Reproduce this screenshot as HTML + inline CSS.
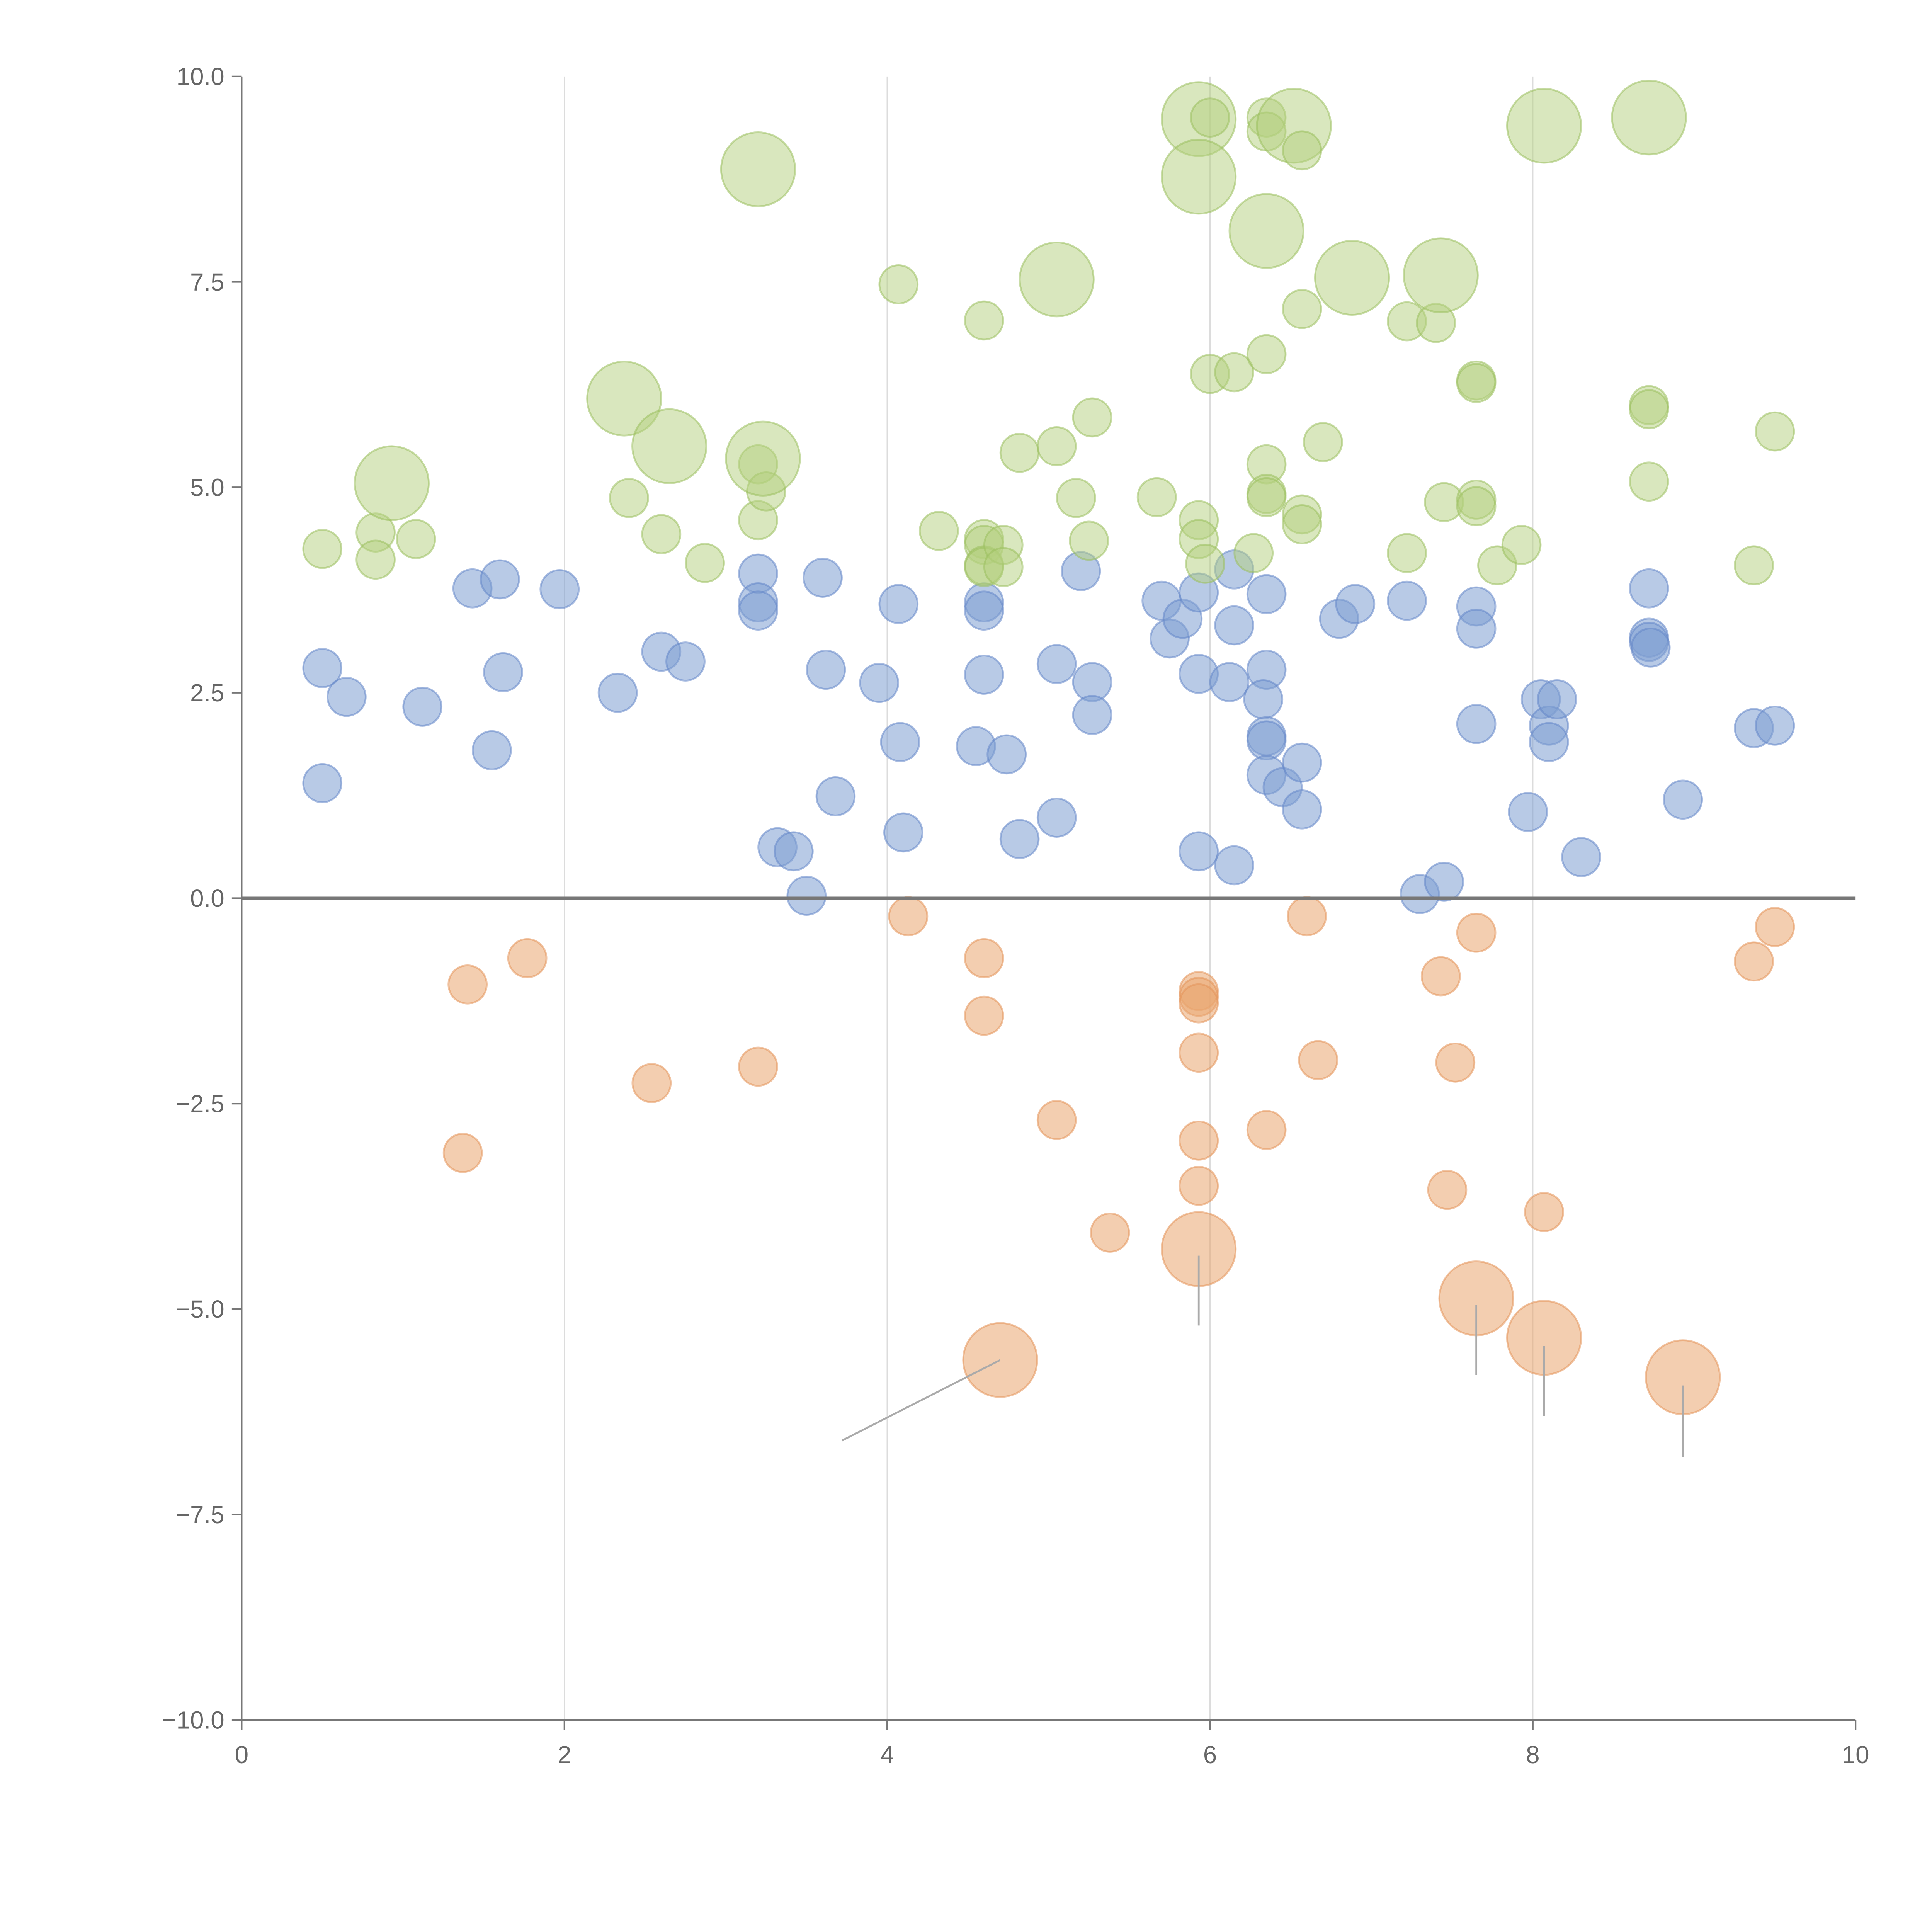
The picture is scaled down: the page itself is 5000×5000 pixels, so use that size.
<!DOCTYPE html>
<html><head><meta charset="utf-8"><style>
html,body{margin:0;padding:0;background:#fff;}
svg{display:block;}
text{font-family:"Liberation Sans",Arial,sans-serif;}
</style></head><body>
<svg id="chart" width="5000" height="5000" viewBox="0 0 1567 1567" xmlns="http://www.w3.org/2000/svg">
<g id="grid"></g>
<g id="marks"></g>
<g id="notes"></g>
<g id="axes"></g>
</svg>
<script>
const xTicks=[0,2,4,6,8,10];
const yTicks=[10,7.5,5,2.5,0,-2.5,-5,-7.5,-10];
const yTickLabels=["10.0","7.5","5.0","2.5","0.0","\u22122.5","\u22125.0","\u22127.5","\u221210.0"];
const blueX=[0.5,0.65,0.5,1.12,1.43,1.6,1.55,1.62,1.97,2.33,2.6,2.75,3.2,3.2,3.2,3.32,3.42,3.5,3.6,3.62,3.68,3.95,4.07,4.08,4.1,4.55,4.6,4.6,4.6,4.74,4.82,5.05,5.05,5.2,5.27,5.27,5.7,5.75,5.83,5.93,5.93,5.93,6.12,6.15,6.15,6.15,6.35,6.35,6.33,6.35,6.35,6.35,6.45,6.57,6.57,6.8,6.9,7.22,7.3,7.45,7.65,7.65,7.65,7.97,8.05,8.1,8.1,8.15,8.3,8.72,8.72,8.72,8.73,8.93,9.37,9.5];
const blueY=[2.8,2.45,1.4,2.33,3.77,3.88,1.8,2.75,3.76,2.5,3.0,2.88,3.95,3.6,3.5,0.62,0.57,0.03,3.9,2.78,1.24,2.62,3.58,1.9,0.8,1.85,3.6,3.5,2.72,1.75,0.72,2.85,0.98,3.98,2.63,2.23,3.62,3.16,3.4,3.72,2.73,0.57,2.63,4.0,3.32,0.4,3.7,2.78,2.42,1.97,1.92,1.5,1.35,1.65,1.08,3.4,3.58,3.62,0.05,0.2,3.55,3.28,2.12,1.05,2.42,2.1,1.9,2.42,0.5,3.77,3.17,3.12,3.05,1.2,2.07,2.1];
const orangeX=[1.4,1.77,1.37,2.54,3.2,4.13,4.6,4.6,5.05,5.38,4.7,5.93,5.93,5.93,5.93,5.93,5.93,5.93,6.35,6.6,6.67,7.43,7.47,7.52,7.65,7.65,8.07,8.07,8.93,9.37,9.5];
const orangeY=[-1.05,-0.73,-3.1,-2.25,-2.05,-0.22,-0.73,-1.43,-2.7,-4.07,-5.62,-1.13,-1.2,-1.28,-1.88,-2.95,-3.5,-4.27,-2.82,-0.22,-1.97,-0.95,-3.55,-2.0,-0.42,-4.87,-3.82,-5.35,-5.83,-0.77,-0.35];
const orangeBig=[0,0,0,0,0,0,0,0,0,0,1,0,0,0,0,0,0,1,0,0,0,0,0,0,0,1,0,1,1,0,0];
const greenX=[0.5,0.83,0.83,1.08,0.93,2.4,2.37,2.6,2.65,2.87,3.2,3.2,3.2,3.25,3.23,4.07,4.32,4.6,4.6,4.6,4.6,4.6,4.72,4.72,4.82,5.05,5.05,5.17,5.27,5.25,5.67,5.93,5.93,5.93,5.93,5.97,6.0,6.0,6.15,6.27,6.35,6.35,6.35,6.35,6.35,6.35,6.35,6.52,6.57,6.57,6.57,6.57,6.7,6.88,7.22,7.22,7.4,7.43,7.45,7.65,7.65,7.65,7.65,7.78,7.93,8.07,8.72,8.72,8.72,8.72,9.37,9.5];
const greenY=[4.25,4.45,4.12,4.37,5.05,4.87,6.08,4.43,5.5,4.08,8.87,5.28,4.6,4.95,5.35,7.47,4.47,7.03,4.37,4.3,4.05,4.03,4.3,4.03,5.42,5.5,7.53,4.87,5.85,4.35,4.88,9.48,8.78,4.6,4.37,4.07,9.5,6.38,6.4,4.2,9.5,9.33,8.12,6.62,5.28,4.92,4.88,9.4,9.1,7.17,4.67,4.55,5.55,7.55,7.02,4.2,7.0,7.58,4.82,6.3,6.27,4.85,4.77,4.05,4.3,9.4,9.5,6.0,5.95,5.07,4.05,5.68];
const greenBig=[0,0,0,0,1,0,1,0,1,0,1,0,0,0,1,0,0,0,0,0,0,0,0,0,0,0,1,0,0,0,0,1,1,0,0,0,0,0,0,0,0,0,1,0,0,0,0,1,0,0,0,0,0,1,0,0,0,1,0,0,0,0,0,0,0,1,1,0,0,0,0,0];
const noteFromX=[4.7,5.93,7.65,8.07,8.93];
const noteFromY=[-5.62,-4.35,-4.95,-5.45,-5.93];
const noteToX=[3.72,5.93,7.65,8.07,8.93];
const noteToY=[-6.6,-5.2,-5.8,-6.3,-6.8];

const X0=196,X1=1505,Y0=62,Y1=1395;
const sx=v=>X0+(v-0)/(10-0)*(X1-X0);
const sy=v=>Y0+(10-v)/(20)*(Y1-Y0);
const NS="http://www.w3.org/2000/svg";
function mk(tag,attrs,parent){const e=document.createElementNS(NS,tag);for(const k in attrs)e.setAttribute(k,attrs[k]);parent.appendChild(e);return e;}
const grid=document.getElementById('grid'),marks=document.getElementById('marks'),notes=document.getElementById('notes'),axes=document.getElementById('axes');

xTicks.slice(1,-1).forEach(t=>{const l=mk('line',{x1:sx(t),x2:sx(t),y1:Y0,y2:Y1,stroke:'#dcdcdc','stroke-width':1},grid);

});

function series(xs,ys,big,fill,stroke,name){xs.forEach((x,i)=>{const r=(big&&big[i])?30:15.5;
const c=mk('circle',{cx:sx(x),cy:sy(ys[i]),r:r,fill:fill,stroke:stroke,'stroke-width':1.5},marks);

});}
series(blueX,blueY,null,'rgba(125,158,210,0.55)','rgba(100,135,200,0.55)','blue-bubble');
series(orangeX,orangeY,orangeBig,'rgba(234,165,112,0.55)','rgba(228,148,90,0.55)','orange-bubble');
series(greenX,greenY,greenBig,'rgba(180,208,125,0.5)','rgba(155,192,95,0.55)','green-bubble');

noteFromX.forEach((x,i)=>{const l=mk('line',{x1:sx(x),y1:sy(noteFromY[i]),x2:sx(noteToX[i]),y2:sy(noteToY[i]),stroke:'#aaaaaa','stroke-width':1.5},notes);

});

const zl=mk('line',{x1:X0,x2:X1,y1:sy(0),y2:sy(0),stroke:'#777','stroke-width':2.5},axes);


const ls=mk('line',{x1:X0,x2:X0,y1:Y0,y2:Y1,stroke:'#777','stroke-width':1.3},axes);


const bs=mk('line',{x1:X0,x2:X1,y1:Y1,y2:Y1,stroke:'#777','stroke-width':1.3},axes);


yTicks.forEach((t,i)=>{mk('line',{x1:X0-8,x2:X0,y1:sy(t),y2:sy(t),stroke:'#777','stroke-width':1.3},axes);
const tx=mk('text',{x:X0-14,y:sy(t)+7,'text-anchor':'end','font-size':20,fill:'#666'},axes);tx.textContent=yTickLabels[i];

});
xTicks.forEach(t=>{mk('line',{x1:sx(t),x2:sx(t),y1:Y1,y2:Y1+8,stroke:'#777','stroke-width':1.3},axes);
const tx=mk('text',{x:sx(t),y:Y1+35,'text-anchor':'middle','font-size':20,fill:'#666'},axes);tx.textContent=String(t);

});
</script>
</body></html>
